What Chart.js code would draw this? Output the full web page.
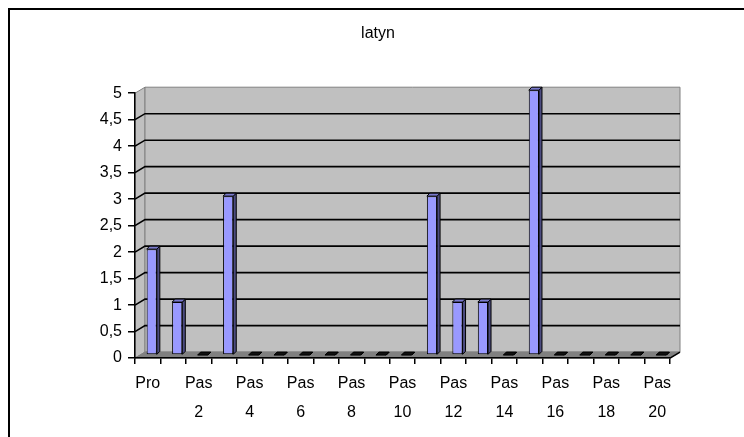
<!DOCTYPE html>
<html>
<head>
<meta charset="utf-8">
<script src="https://cdn.jsdelivr.net/npm/chart.js@4/dist/chart.umd.min.js"></script>
<style>
    html, body { margin: 0; padding: 0; background: #fff; overflow: hidden; }
    #frame { position: absolute; left: 8px; top: 8px; width: 800px; height: 500px; border: 2px solid #000; }
    #wrap { position: absolute; left: 0; top: 0; width: 744px; height: 437px; }
</style>
</head>
<body>
<div id="frame"></div>
<div id="wrap"><canvas id="chart" width="744" height="437"></canvas></div>
<script>
const categories = ["Pro", "Pas 1", "Pas 2", "Pas 3", "Pas 4", "Pas 5", "Pas 6", "Pas 7", "Pas 8", "Pas 9", "Pas 10",
    "Pas 11", "Pas 12", "Pas 13", "Pas 14", "Pas 15", "Pas 16", "Pas 17", "Pas 18", "Pas 19", "Pas 20"];
const values = [2, 1, 0, 3, 0, 0, 0, 0, 0, 0, 0, 3, 1, 1, 0, 5, 0, 0, 0, 0, 0];
const yTicks = [0, 0.5, 1, 1.5, 2, 2.5, 3, 3.5, 4, 4.5, 5];
const chartTitle = "latyn";

// fake 3d look of the old office chart
const DX = 10, DY = 6;      // wall depth
const BX = 4, BY = 3;       // bar shift into the room
const BD = 3;               // bar depth

const poly = function (ctx, pts, fill, stroke, lw) {
    ctx.beginPath();
    pts.forEach((p, i) => i ? ctx.lineTo(p[0], p[1]) : ctx.moveTo(p[0], p[1]));
    ctx.closePath();
    if (fill) { ctx.fillStyle = fill; ctx.fill(); }
    if (stroke) { ctx.strokeStyle = stroke; ctx.lineWidth = lw || 1; ctx.stroke(); }
};

const depth3d = {
    id: "depth3d",
    beforeDraw(chart) {
        const ctx = chart.ctx, a = chart.chartArea, y = chart.scales.y;
        ctx.save();
        poly(ctx, [[a.left, a.bottom], [a.left, a.top], [a.left + DX, a.top - DY], [a.left + DX, a.bottom - DY]], "#c0c0c0", "#808080");
        poly(ctx, [[a.left + DX, a.top - DY], [a.right + DX, a.top - DY], [a.right + DX, a.bottom - DY], [a.left + DX, a.bottom - DY]], "#c0c0c0", "#808080");
        poly(ctx, [[a.left, a.bottom], [a.right, a.bottom], [a.right + DX, a.bottom - DY], [a.left + DX, a.bottom - DY]], "#808080", "#808080");

        ctx.strokeStyle = "#000";
        ctx.lineWidth = 1.6;
        y.ticks.forEach(t => {
            if (t.value <= y.min || t.value >= y.max) return;
            const py = y.getPixelForValue(t.value);
            ctx.beginPath();
            ctx.moveTo(a.left, py);
            ctx.lineTo(a.left + DX, py - DY);
            ctx.lineTo(a.right + DX, py - DY);
            ctx.stroke();
        });
        ctx.beginPath();
        ctx.moveTo(a.right, a.bottom);
        ctx.lineTo(a.right + DX, a.bottom - DY);
        ctx.stroke();
        ctx.restore();
    },
    beforeDatasetDraw(chart) {
        chart.ctx.save();
        chart.ctx.translate(BX, -BY);
    },
    afterDatasetDraw(chart, args) {
        const ctx = chart.ctx;
        args.meta.data.forEach((bar, i) => {
            const p = bar.getProps(["x", "y", "base", "width"], true);
            const l = p.x - p.width / 2, r = p.x + p.width / 2;
            const flat = values[i] === 0;
            poly(ctx, [[r, p.y], [r + BD, p.y - BD], [r + BD, p.base - BD], [r, p.base]], flat ? "#000" : "#4c4c80", "#000");
            poly(ctx, [[l, p.y], [l + BD, p.y - BD], [r + BD, p.y - BD], [r, p.y]], flat ? "#111" : "#7a7acc", "#000");
        });
        ctx.restore();
    }
};

Chart.defaults.font.family = "'Liberation Sans', Arial, sans-serif";
Chart.defaults.font.size = 16;
Chart.defaults.color = "#000";

new Chart(document.getElementById("chart").getContext("2d"), {
    type: "bar",
    plugins: [depth3d],
    data: {
        labels: categories,
        datasets: [{
            data: values,
            backgroundColor: "#9999ff",
            borderColor: "#000",
            borderWidth: 1,
            borderSkipped: false,
            categoryPercentage: 1,
            barPercentage: 0.4
        }]
    },
    options: {
        responsive: false,
        animation: false,
        layout: {padding: {left: 86, right: 74, top: 0, bottom: 5}},
        plugins: {
            legend: {display: false},
            tooltip: {enabled: false},
            title: {
                display: true,
                text: chartTitle,
                color: "#000",
                font: {size: 16, weight: "normal"},
                padding: {top: 24, bottom: 50}
            }
        },
        scales: {
            x: {
                offset: true,
                grid: {display: true, offset: true, drawOnChartArea: false, drawTicks: true, tickLength: 6, color: "#000", lineWidth: 1.5},
                border: {display: true, color: "#000", width: 1.5},
                ticks: {
                    autoSkip: false,
                    maxRotation: 0,
                    padding: 5,
                    font: {size: 16, lineHeight: 1.81},
                    callback: (v, i) => i % 2 === 0 ? categories[i].split(" ") : ""
                }
            },
            y: {
                min: 0,
                max: 5,
                afterFit: scale => { scale.width = 49; },
                afterBuildTicks: scale => { scale.ticks = yTicks.map(v => ({value: v})); },
                grid: {display: true, drawOnChartArea: false, drawTicks: true, tickLength: 7, color: "#000", lineWidth: 1.5},
                border: {display: true, color: "#000", width: 1.5},
                ticks: {
                    padding: 6,
                    font: {size: 16},
                    callback: v => String(v).replace(".", ",")
                }
            }
        }
    }
});
</script>
</body>
</html>
